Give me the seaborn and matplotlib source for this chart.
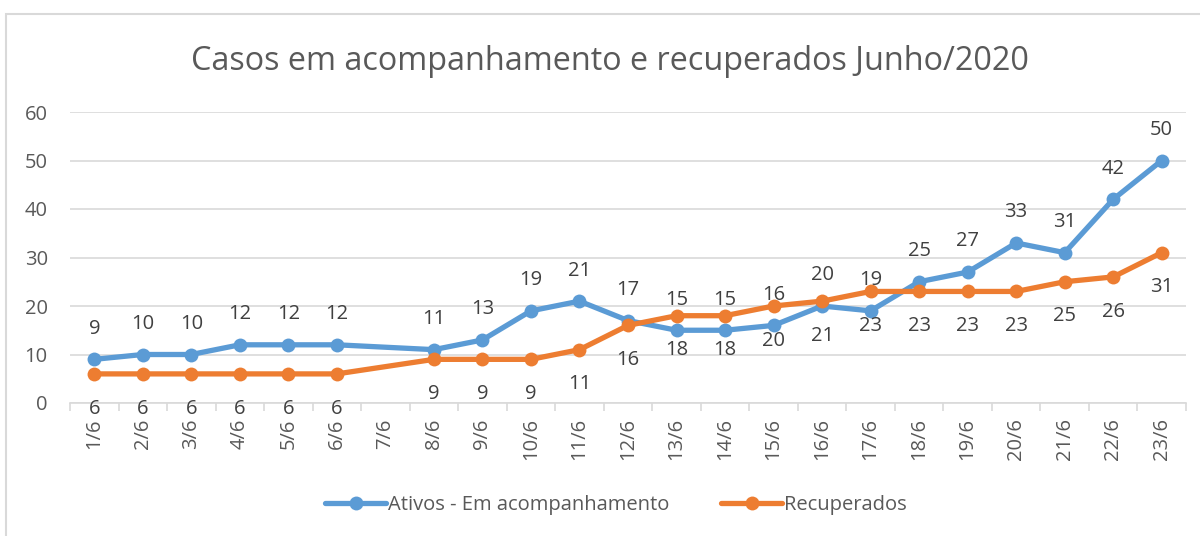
import matplotlib

matplotlib.use("Agg")

import matplotlib.pyplot as plt
import numpy as np
import pandas as pd
import seaborn as sns
from matplotlib.patches import Rectangle

days = ["1/6", "2/6", "3/6", "4/6", "5/6", "6/6", "7/6", "8/6", "9/6", "10/6", "11/6", "12/6",
        "13/6", "14/6", "15/6", "16/6", "17/6", "18/6", "19/6", "20/6", "21/6", "22/6", "23/6"]
ativos = [9, 10, 10, 12, 12, 12, np.nan, 11, 13, 19, 21, 17, 15, 15, 16, 20, 19, 25, 27, 33, 31, 42, 50]
recuperados = [6, 6, 6, 6, 6, 6, np.nan, 9, 9, 9, 11, 16, 18, 18, 20, 21, 23, 23, 23, 23, 25, 26, 31]

BLUE = "#5B9BD5"
ORANGE = "#ED7D31"
TEXT = "#595959"
GRID = "#D9D9D9"

sns.set_theme(style="white")
plt.rcParams["font.family"] = ["Open Sans", "DejaVu Sans"]

df = pd.DataFrame({"idx": range(len(days)), "day": days, "ativos": ativos, "recuperados": recuperados})

fig = plt.figure(figsize=(12, 5.36), dpi=100)
fig.patches.append(Rectangle((6 / 1200, -0.1), 1.2, 1 - 14 / 536 + 0.1, transform=fig.transFigure,
                             fill=False, edgecolor=GRID, linewidth=1.5))
ax = fig.add_axes([70 / 1200, 1 - 403 / 536, (1186 - 70) / 1200, (403 - 112) / 536])

# blue labels sit above the points, orange ones below (as in the Excel original)
series = [("ativos", "Ativos - Em acompanhamento", BLUE, 22), ("recuperados", "Recuperados", ORANGE, -25)]
for col, label, color, dy in series:
    sns.lineplot(data=df, x="idx", y=col, ax=ax, color=color, linewidth=3.8, marker="o",
                 markersize=10, markeredgewidth=0, label=label)
    for i, v in zip(df["idx"], df[col]):
        if np.isnan(v):
            continue
        ax.annotate(f"{int(v)}", (i, v), xytext=(0, dy), textcoords="offset points",
                    ha="center", va="center", fontsize=14.5, color="#404040")

ax.set_xlim(-0.5, len(days) - 0.5)
ax.set_ylim(0, 60)
ax.set_yticks(range(0, 61, 10))
ax.yaxis.grid(True, color=GRID, linewidth=1.2)
ax.set_axisbelow(True)
for s in ["top", "right", "left"]:
    ax.spines[s].set_visible(False)
ax.spines["bottom"].set_color(GRID)
ax.spines["bottom"].set_linewidth(1.2)

ax.set_xticks(np.arange(-0.5, len(days)), minor=False)
ax.set_xticklabels([])
ax.tick_params(axis="x", which="major", length=6, color=GRID, width=1.2, bottom=True)
ax.set_xticks(range(len(days)), minor=True)
ax.set_xticklabels(days, minor=True, rotation=90, fontsize=14.5, color=TEXT)
ax.tick_params(axis="x", which="minor", length=0, pad=11)
ax.tick_params(axis="y", length=0, labelsize=14.5, labelcolor=TEXT, pad=16)
ax.set_xlabel("")
ax.set_ylabel("")

fig.text(0.508, 1 - 61 / 536, "Casos em acompanhamento e recuperados Junho/2020", ha="center", va="center",
         fontsize=23.3, color=TEXT)

ax.legend(loc="center", bbox_to_anchor=(0.5 - 12 / 1116, (403 - 505) / (403 - 112)), ncol=2, frameon=False,
          fontsize=14.5, labelcolor=TEXT, handlelength=3, handletextpad=0.1, columnspacing=2.6)

fig.savefig("out.png", dpi=100)
